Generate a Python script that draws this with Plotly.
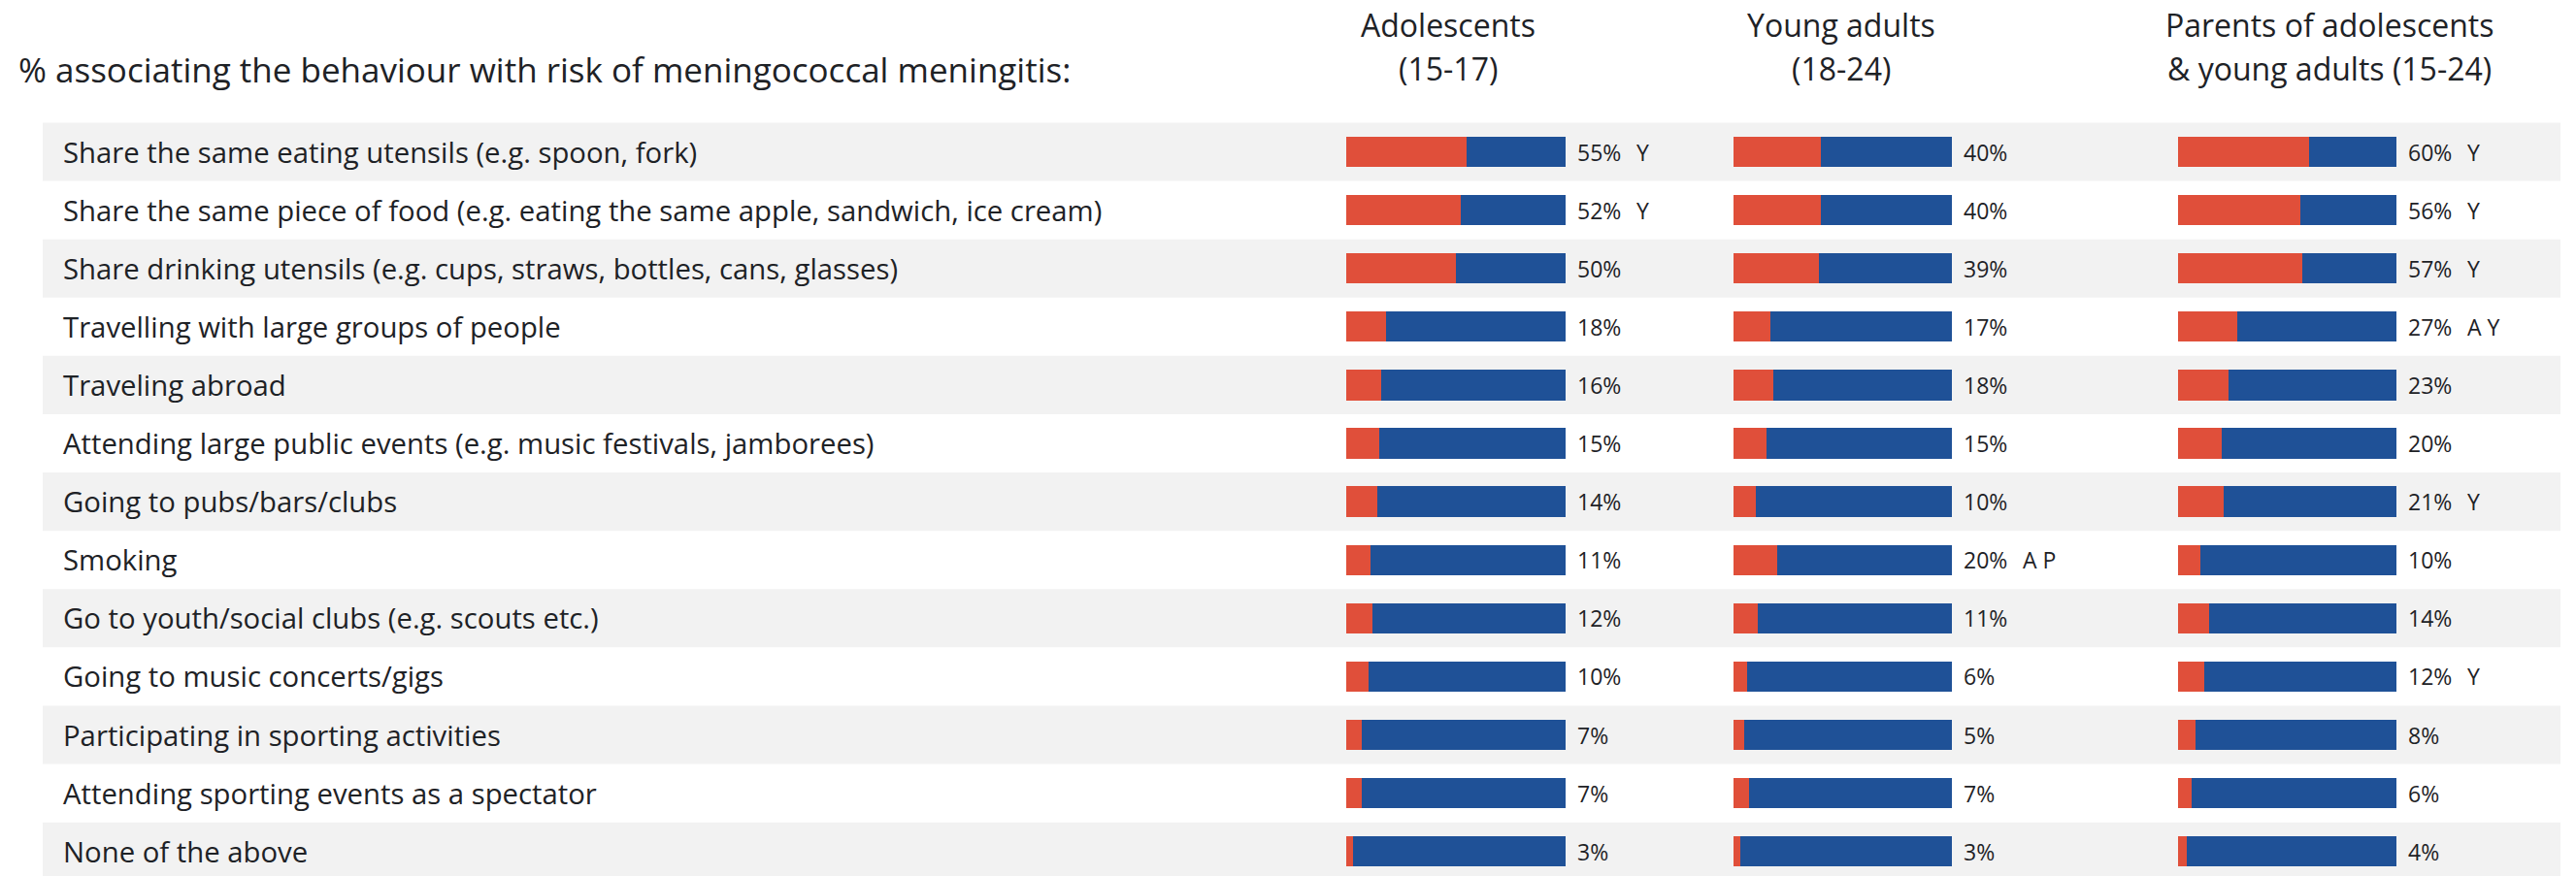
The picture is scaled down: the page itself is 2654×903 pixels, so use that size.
import plotly.graph_objects as go

# Behaviours (top to bottom)
behaviours = [
    "Share the same eating utensils (e.g. spoon, fork)",
    "Share the same piece of food (e.g. eating the same apple, sandwich, ice cream)",
    "Share drinking utensils (e.g. cups, straws, bottles, cans, glasses)",
    "Travelling with large groups of people",
    "Traveling abroad",
    "Attending large public events (e.g. music festivals, jamborees)",
    "Going to pubs/bars/clubs",
    "Smoking",
    "Go to youth/social clubs (e.g. scouts etc.)",
    "Going to music concerts/gigs",
    "Participating in sporting activities",
    "Attending sporting events as a spectator",
    "None of the above",
]

# % associating each behaviour with risk, per audience
adolescents = [55, 52, 50, 18, 16, 15, 14, 11, 12, 10, 7, 7, 3]
young_adults = [40, 40, 39, 17, 18, 15, 10, 20, 11, 6, 5, 7, 3]
parents = [60, 56, 57, 27, 23, 20, 21, 10, 14, 12, 8, 6, 4]

# Significance flags shown next to values
adolescents_flags = ["Y", "Y", "", "", "", "", "", "", "", "", "", "", ""]
young_adults_flags = ["", "", "", "", "", "", "", "A P", "", "", "", "", ""]
parents_flags = ["Y", "Y", "Y", "A Y", "", "", "Y", "", "", "Y", "", "", ""]

group_titles = [
    ("Adolescents", "(15-17)"),
    ("Young adults", "(18-24)"),
    ("Parents of adolescents", "& young adults (15-24)"),
]
title_text = "% associating the behaviour with risk of meningococcal meningitis:"

W, H = 2654, 903
RED = "#E04F3A"
BLUE = "#1F5197"
BAND = "#F2F2F2"
TEXT = "#1E2226"
FONT = "Open Sans"

panels = [
    (adolescents, adolescents_flags, "x", (1387, 1613), 1492),
    (young_adults, young_adults_flags, "x2", (1786, 2011), 1897),
    (parents, parents_flags, "x3", (2244, 2469), 2400),
]

rows = list(range(len(behaviours)))
pitch = 60.1
first_center = 156.5
y_top = -first_center / pitch
y_bottom = (H - first_center) / pitch

fig = go.Figure()
annotations = []
shapes = []

for values, flags, xa, (px0, px1), _ in panels:
    rest = [100 - v for v in values]
    fig.add_trace(go.Bar(
        x=values, y=rows, orientation="h", xaxis=xa, yaxis="y",
        marker=dict(color=RED, line=dict(width=0)), width=0.52,
        showlegend=False, hoverinfo="skip",
    ))
    fig.add_trace(go.Bar(
        x=rest, y=rows, orientation="h", xaxis=xa, yaxis="y",
        marker=dict(color=BLUE, line=dict(width=0)), width=0.52,
        showlegend=False, hoverinfo="skip",
    ))
    for i, (v, f) in enumerate(zip(values, flags)):
        annotations.append(dict(
            x=100, y=i, xref=xa, yref="y", text=f"{v}%", showarrow=False,
            xanchor="left", yanchor="middle", xshift=10,
            font=dict(family=FONT, size=23, color=TEXT),
        ))
        if f:
            annotations.append(dict(
                x=100, y=i, xref=xa, yref="y", text=f, showarrow=False,
                xanchor="left", yanchor="middle", xshift=71,
                font=dict(family=FONT, size=23, color=TEXT),
            ))

# Alternating row bands and row labels
for i, label in enumerate(behaviours):
    if i % 2 == 0:
        shapes.append(dict(
            type="rect", xref="paper", yref="y",
            x0=44 / W, x1=2638 / W, y0=i - 0.5, y1=i + 0.5,
            fillcolor=BAND, line=dict(width=0), layer="below",
        ))
    annotations.append(dict(
        x=63 / W, y=i, xref="paper", yref="y", text=label, showarrow=False,
        xanchor="left", yanchor="middle",
        font=dict(family=FONT, size=29.3, color=TEXT),
    ))

# Heading on the left
annotations.append(dict(
    x=17 / W, y=1 - 71 / H, xref="paper", yref="paper", text=title_text,
    showarrow=False, xanchor="left", yanchor="middle",
    font=dict(family=FONT, size=35, color=TEXT),
))

# Group headings above each panel
for (line1, line2), (_, _, _, _, cx_px) in zip(group_titles, panels):
    cx = cx_px / W
    for txt, py in ((line1, 25), (line2, 70)):
        annotations.append(dict(
            x=cx, y=1 - py / H, xref="paper", yref="paper", text=txt,
            showarrow=False, xanchor="center", yanchor="middle",
            font=dict(family=FONT, size=32, color=TEXT),
        ))

axis_common = dict(range=[0, 100], showgrid=False, zeroline=False,
                   showticklabels=False, showline=False, fixedrange=True)
layout_axes = {}
for _, _, xa, (px0, px1), _ in panels:
    key = "xaxis" if xa == "x" else "xaxis" + xa[1:]
    ax = dict(axis_common, domain=[px0 / W, px1 / W], anchor="y")
    layout_axes[key] = ax

fig.update_layout(
    width=W, height=H,
    margin=dict(l=0, r=0, t=0, b=0),
    paper_bgcolor="white", plot_bgcolor="rgba(0,0,0,0)",
    barmode="stack", bargap=0,
    yaxis=dict(range=[y_bottom, y_top], domain=[0, 1], showgrid=False,
               zeroline=False, showticklabels=False, fixedrange=True),
    shapes=shapes, annotations=annotations,
    **layout_axes,
)

fig.write_html("out.html")
